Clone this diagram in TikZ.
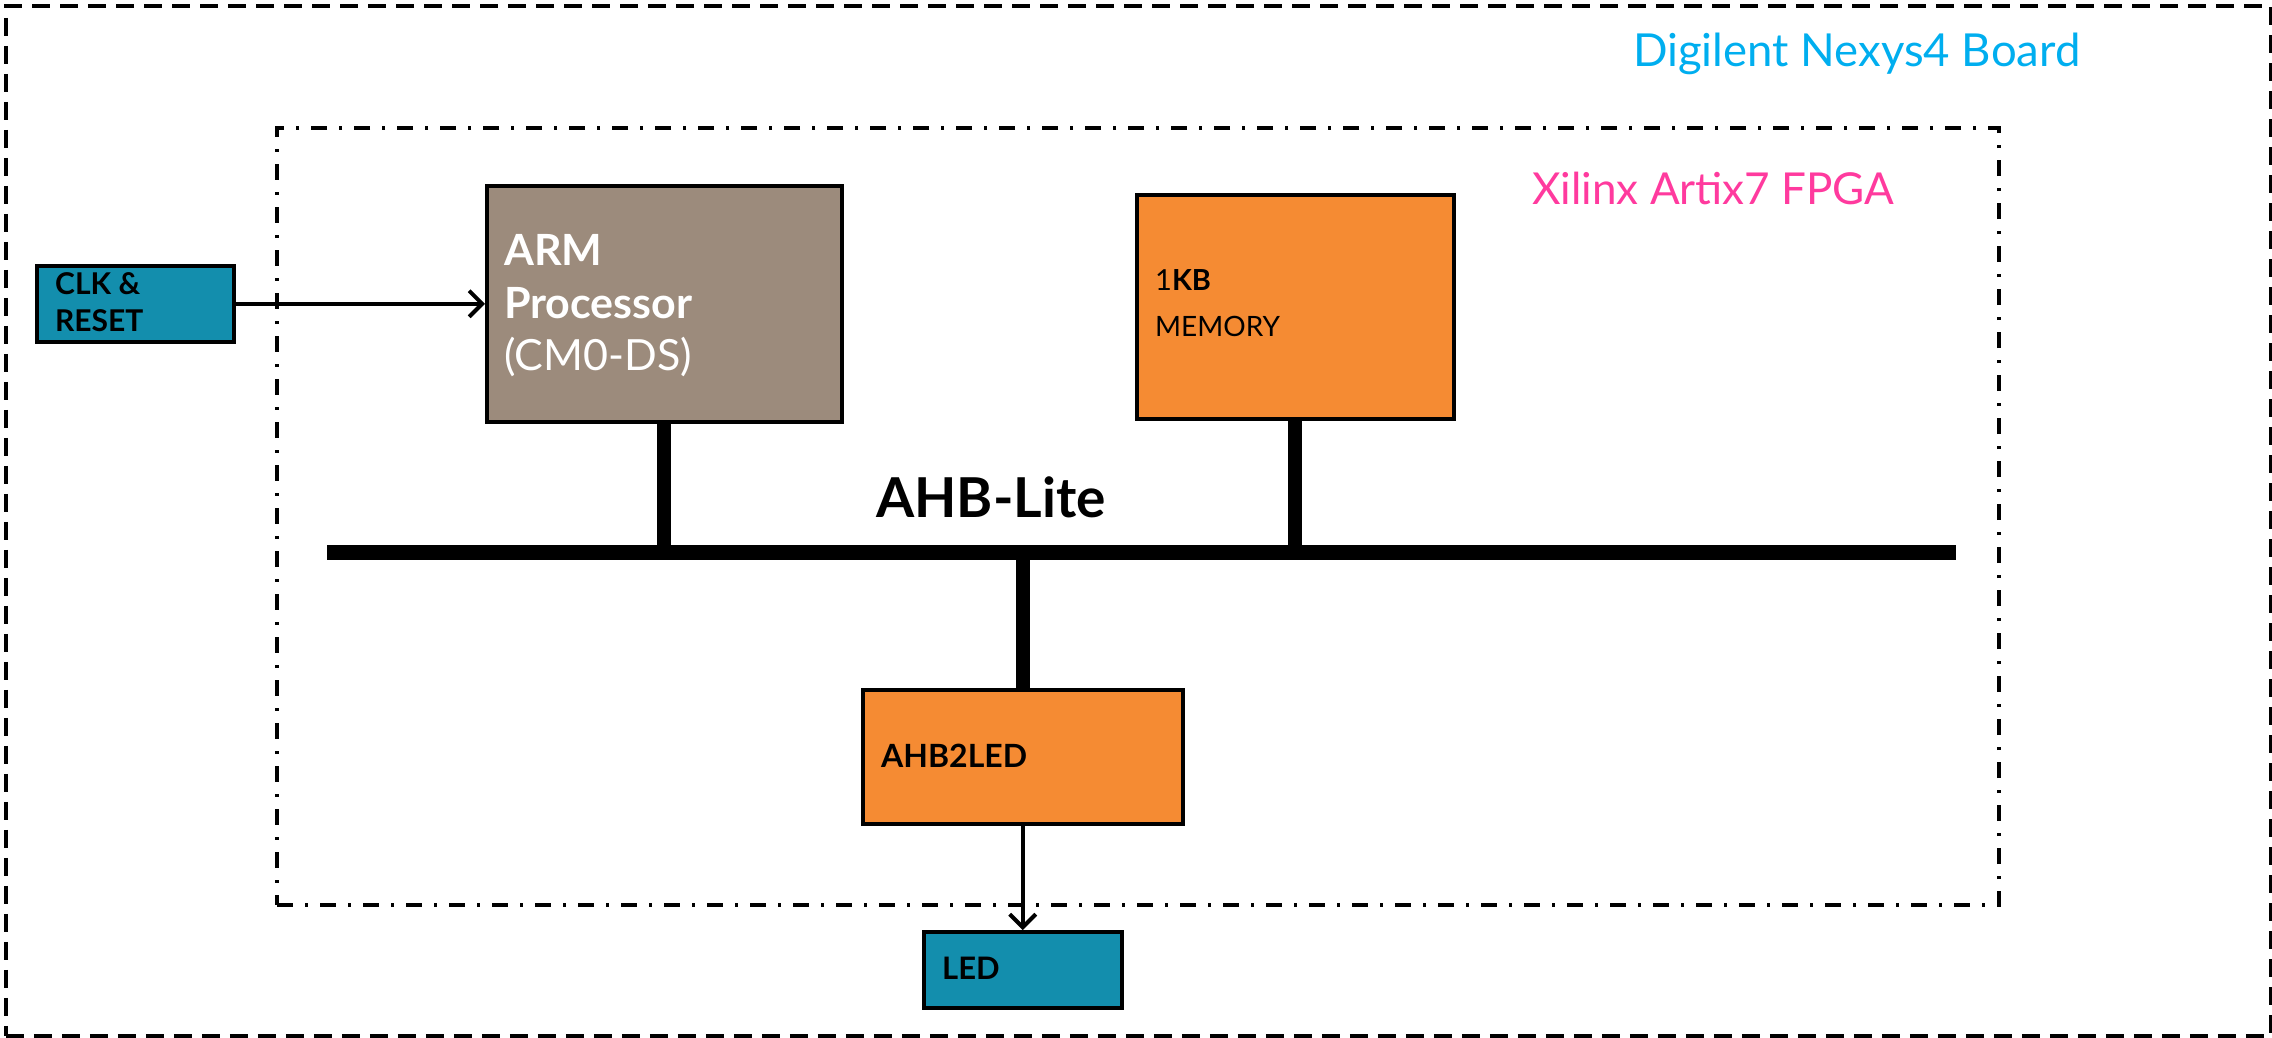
\documentclass[tikz,border=0pt]{standalone}
\usepackage{fontspec}
\setmainfont{Lato}
\usetikzlibrary{arrows.meta}
\definecolor{tealbox}{HTML}{138EAD}
\definecolor{armbox}{HTML}{9C8B7C}
\definecolor{orangebox}{HTML}{F58B33}
\definecolor{boardtxt}{HTML}{00AEEF}
\definecolor{fpgatxt}{HTML}{FF3A9E}
\begin{document}
\begin{tikzpicture}[x=1pt,y=-1pt,
  blk/.style={draw=black,line width=3.5pt,anchor=north west,inner sep=0pt},
  lbl/.style={anchor=base west,inner sep=0pt},
  boardline/.style={draw=black,line width=4.5pt,dash pattern=on 18pt off 10pt},
  fpgaline/.style={draw=black,line width=4pt,dash pattern=on 16pt off 12pt on 3pt off 12pt},
  busline/.style={line width=15pt},
  stub/.style={line width=14pt},
  sig/.style={line width=4pt,-{Straight Barb[length=13pt,width=26pt,line width=4pt]}}]
\useasboundingbox (0,0) rectangle (2272,1037);
% containers
\node[boardline,anchor=north west,inner sep=0pt,minimum width=2265pt,minimum height=1030pt] (board) at (3.5,3.5) {};
\node[fpgaline,anchor=north west,inner sep=0pt,minimum width=1722pt,minimum height=777pt] (fpga) at (275,126) {};
\node[lbl,text=boardtxt,font=\fontsize{45.5}{50}\selectfont] (boardlbl) at (1633,66) {Digilent Nexys4 Board};
\node[lbl,text=fpgatxt,font=\fontsize{44}{50}\selectfont] (fpgalbl) at (1532,204) {Xilinx Artix7 FPGA};
% blocks
\node[blk,fill=tealbox,minimum width=197pt,minimum height=76pt] (clk) at (35,264) {};
\node[blk,fill=armbox,minimum width=355pt,minimum height=236pt] (arm) at (485,184) {};
\node[blk,fill=orangebox,minimum width=317pt,minimum height=224pt] (mem) at (1135,193) {};
\node[blk,fill=orangebox,minimum width=320pt,minimum height=134pt] (ahb) at (861,688) {};
\node[blk,fill=tealbox,minimum width=198pt,minimum height=76pt] (led) at (922,930) {};
% texts
\node[lbl,font=\fontsize{30}{34}\selectfont\bfseries] (clkt1) at (55,294) {CLK \&};
\node[lbl,font=\fontsize{30}{34}\selectfont\bfseries] (clkt2) at (55,331) {RESET};
\node[lbl,text=white,font=\fontsize{43}{48}\selectfont\bfseries] (armt1) at (504,265) {ARM};
\node[lbl,text=white,font=\fontsize{43}{48}\selectfont\bfseries] (armt2) at (504,318) {Processor};
\node[lbl,text=white,font=\fontsize{43}{48}\selectfont] (armt3) at (504,370) {(CM0-DS)};
\node[lbl,font=\fontsize{29}{32}\selectfont] (memt1) at (1155,290) {1\textbf{KB}};
\node[lbl,font=\fontsize{28}{32}\selectfont] (memt2) at (1155,336) {MEMORY};
\node[lbl,font=\fontsize{32}{36}\selectfont\bfseries] (ahbt) at (881,767) {AHB2LED};
\node[lbl,font=\fontsize{31}{36}\selectfont\bfseries] (ledt) at (942,979) {LED};
% bus
\coordinate (busL) at (327,552);
\coordinate (busR) at (1956,552);
\draw[busline] (busL) -- (busR);
\node[anchor=base,inner sep=0pt,font=\fontsize{55}{60}\selectfont\bfseries] (buslbl) at (991,517) {AHB-Lite};
\draw[stub] (arm.south) -- (arm.south |- busL);
\draw[stub] (mem.south) -- (mem.south |- busL);
\draw[stub] (ahb.north) -- (ahb.north |- busL);
% signals
\draw[sig] (clk.east) -- (arm.west |- clk.east);
\draw[sig] (ahb.south) -- (led.north);
\end{tikzpicture}
\end{document}
